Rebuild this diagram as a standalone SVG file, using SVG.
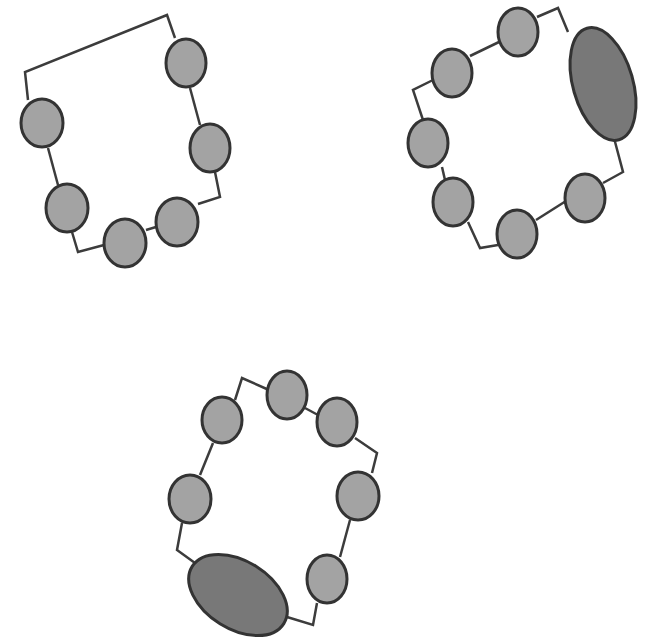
<svg xmlns="http://www.w3.org/2000/svg" width="652" height="643" viewBox="0 0 652 643">
<style>
.c{fill:#a3a3a3;stroke:#333333;stroke-width:3}
.e{fill:#787878;stroke:#333333;stroke-width:3}
.l{fill:none;stroke:#3c3c3c;stroke-width:2.5;stroke-linejoin:miter}
</style>
<rect width="652" height="643" fill="#ffffff"/>
<g id="connectors">
<polyline class="l" points="175,38 167,15 25,72 28,100"/>
<polyline class="l" points="190,88 200,125"/>
<polyline class="l" points="48,148 58,185"/>
<polyline class="l" points="72,232 78,252 104,245"/>
<polyline class="l" points="146,230 156,227"/>
<polyline class="l" points="198,204 220,197 215,172"/>
<polyline class="l" points="537,17 558,8 568,32"/>
<polyline class="l" points="499,42 470,56"/>
<polyline class="l" points="433,80 413,90 423,120"/>
<polyline class="l" points="442,167 445,180"/>
<polyline class="l" points="468,222 480,248 498,245"/>
<polyline class="l" points="536,220 566,201"/>
<polyline class="l" points="603,183 623,172 614,138"/>
<polyline class="l" points="235,400 242,378 269,390"/>
<polyline class="l" points="305,408 318,415"/>
<polyline class="l" points="355,438 377,453 372,473"/>
<polyline class="l" points="350,520 340,557"/>
<polyline class="l" points="317,603 313,625 287,617"/>
<polyline class="l" points="195,563 177,550 182,523"/>
<polyline class="l" points="200,475 213,443"/>
</g>
<g id="n1"><ellipse class="c" cx="186" cy="63" rx="20" ry="24"/></g>
<g id="n2"><ellipse class="c" cx="210" cy="148" rx="20" ry="24"/></g>
<g id="n3"><ellipse class="c" cx="42" cy="123" rx="21" ry="24"/></g>
<g id="n4"><ellipse class="c" cx="67" cy="208" rx="21" ry="24"/></g>
<g id="n5"><ellipse class="c" cx="125" cy="243" rx="21" ry="24"/></g>
<g id="n6"><ellipse class="c" cx="177" cy="222" rx="21" ry="24"/></g>
<g id="n7"><ellipse class="c" cx="518" cy="32" rx="20" ry="24"/></g>
<g id="n8"><ellipse class="e" cx="603" cy="84" rx="30" ry="58" transform="rotate(-16 603 84)"/></g>
<g id="n9"><ellipse class="c" cx="452" cy="73" rx="20" ry="24"/></g>
<g id="n10"><ellipse class="c" cx="428" cy="143" rx="20" ry="24"/></g>
<g id="n11"><ellipse class="c" cx="453" cy="202" rx="20" ry="24"/></g>
<g id="n12"><ellipse class="c" cx="517" cy="234" rx="20" ry="24"/></g>
<g id="n13"><ellipse class="c" cx="585" cy="198" rx="20" ry="24"/></g>
<g id="n14"><ellipse class="c" cx="222" cy="420" rx="20" ry="23"/></g>
<g id="n15"><ellipse class="c" cx="287" cy="395" rx="20" ry="24"/></g>
<g id="n16"><ellipse class="c" cx="337" cy="422" rx="20" ry="24"/></g>
<g id="n17"><ellipse class="c" cx="358" cy="496" rx="21" ry="24"/></g>
<g id="n18"><ellipse class="c" cx="327" cy="579" rx="20" ry="24"/></g>
<g id="n19"><ellipse class="e" cx="238" cy="595" rx="54" ry="34" transform="rotate(32 238 595)"/></g>
<g id="n20"><ellipse class="c" cx="190" cy="499" rx="21" ry="24"/></g>
</svg>
